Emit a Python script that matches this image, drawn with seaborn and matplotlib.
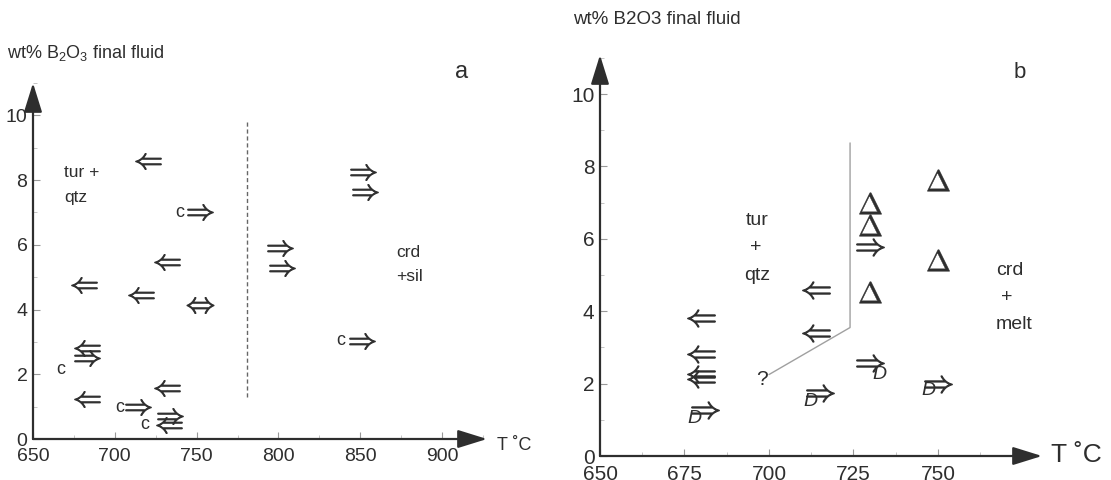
import numpy as np
import pandas as pd
import matplotlib
matplotlib.use("Agg")
import matplotlib.pyplot as plt
from matplotlib.ticker import MultipleLocator
import seaborn as sns

sns.set_style("white")
plt.rcParams["font.family"] = ["Liberation Sans", "DejaVu Sans"]
plt.rcParams["mathtext.fontset"] = "cm"

INK = "#2e2e2e"

# ---------------- panel a data ----------------
a_left_T = [720, 681, 716, 732, 683, 683, 732, 733]
a_left_B = [8.6, 4.75, 4.46, 5.47, 2.8, 1.24, 1.58, 0.42]
a_right_T = [683, 752, 801, 802, 852, 853, 851, 714, 734]
a_right_B = [2.5, 7.0, 5.9, 5.27, 8.26, 7.62, 3.04, 0.98, 0.7]
a_both_T = [752]
a_both_B = [4.14]
a_c_T = [667, 703, 718, 740, 838]
a_c_B = [2.14, 0.98, 0.44, 7.0, 3.04]
a_bound_T = [781, 781]
a_bound_B = [1.3, 9.8]
a_labels = ["tur +", "qtz", "crd", "+sil"]
a_label_T = [669, 669, 872, 872]
a_label_B = [8.23, 7.45, 5.77, 5.03]
a_xticks = [650, 700, 750, 800, 850, 900]
a_yticks = [0, 2, 4, 6, 8, 10]

# ---------------- panel b data ----------------
b_left_T = [680, 680, 680, 680, 714, 714]
b_left_B = [3.8, 2.82, 2.26, 2.12, 4.59, 3.39]
b_right_T = [730]
b_right_B = [5.78]
b_rightD_T = [681, 715, 730, 750]
b_rightD_B = [1.27, 1.73, 2.58, 2.0]
b_D_T = [678, 712.2, 732.8, 747.1]
b_D_B = [1.04, 1.50, 2.24, 1.82]
b_tri_T = [730, 730, 730, 750, 750]
b_tri_B = [6.98, 6.38, 4.54, 7.62, 5.41]
b_bound_T = [700, 724, 724]
b_bound_B = [2.25, 3.55, 8.65]
b_labels = ["tur", "+", "qtz", "crd", "+", "melt"]
b_label_T = [696.4, 696.2, 696.6, 771.2, 770.5, 772.5]
b_label_B = [6.52, 5.76, 5.0, 5.12, 4.38, 3.62]
b_q_T, b_q_B = 698, 2.1
b_xticks = [650, 675, 700, 725, 750]
b_yticks = [0, 2, 4, 6, 8, 10]

fig = plt.figure(figsize=(11.11, 4.8), dpi=100)
W, H = 1111, 480
axA = fig.add_axes([33 / W, 1 - 439 / H, (487 - 33) / W, (439 - 83) / H])
axB = fig.add_axes([600 / W, 1 - 456 / H, (1042 - 600) / W, (456 - 55) / H])


def marks(ax, T, B, marker, size, lw=0.7):
    df = pd.DataFrame({"T": T, "B": B})
    sns.scatterplot(data=df, x="T", y="B", marker=marker, s=size ** 2,
                    color=INK, edgecolor=INK, linewidth=lw, ax=ax,
                    legend=False, clip_on=False)


def style_axes(ax, xlim, ylim, xticks, yticks, xminor, lab_size):
    ax.set_xlim(*xlim)
    ax.set_ylim(*ylim)
    for s in ax.spines.values():
        s.set_visible(False)
    ax.set_xticks(xticks)
    ax.set_yticks(yticks)
    ax.xaxis.set_minor_locator(MultipleLocator(xminor))
    ax.yaxis.set_minor_locator(MultipleLocator(1))
    ax.tick_params(which="major", direction="in", length=5, width=0.8,
                   color="#999999", labelsize=lab_size, labelcolor=INK,
                   bottom=True, left=True)
    ax.tick_params(axis="x", which="major", pad=6.5)
    ax.tick_params(axis="y", which="major", pad=4)
    ax.tick_params(which="minor", direction="in", length=3, width=0.6,
                   color="#bbbbbb", bottom=True, left=True)
    ax.set_xlabel("")
    ax.set_ylabel("")
    arrow = dict(arrowstyle="-|>,head_length=0.9,head_width=0.28",
                 mutation_scale=20, color=INK, lw=1.6, shrinkA=0, shrinkB=0)
    ax.annotate("", xy=(xlim[1], 0), xytext=(xlim[0], 0),
                xycoords="data", arrowprops=arrow, annotation_clip=False)
    ax.annotate("", xy=(xlim[0], ylim[1]), xytext=(xlim[0], 0),
                xycoords="data", arrowprops=arrow, annotation_clip=False)


# ---------------- panel a ----------------
axA.plot(a_bound_T, a_bound_B, ls=(0, (3, 2)), color="#666666", lw=1.0)
marks(axA, a_left_T, a_left_B, r"$\Leftarrow$", 18.5)
marks(axA, a_right_T, a_right_B, r"$\Rightarrow$", 18.5)
marks(axA, a_both_T, a_both_B, r"$\Leftrightarrow$", 19.5)
for t, b in zip(a_c_T, a_c_B):
    axA.text(t, b, "c", fontsize=13, color=INK, ha="center", va="center")
for s, t, b in zip(a_labels, a_label_T, a_label_B):
    axA.text(t, b, s, fontsize=12.5, color=INK, ha="left", va="center")
style_axes(axA, (650, 927.5), (0, 11.0), a_xticks, a_yticks, 25, 14)

# ---------------- panel b ----------------
axB.plot(b_bound_T, b_bound_B, ls="-", color="#a0a0a0", lw=1.0)
marks(axB, b_left_T, b_left_B, r"$\Leftarrow$", 20)
marks(axB, b_right_T, b_right_B, r"$\Rightarrow$", 20)
marks(axB, b_rightD_T, b_rightD_B, r"$\Rightarrow$", 20)
marks(axB, b_tri_T, b_tri_B, r"$\Delta$", 16, lw=0.3)
for t, b in zip(b_D_T, b_D_B):
    axB.text(t, b, "D", fontsize=14, style="italic", color=INK,
             ha="center", va="center")
for s, t, b in zip(b_labels, b_label_T, b_label_B):
    axB.text(t, b, s, fontsize=14, color=INK, ha="center", va="center")
axB.text(b_q_T, b_q_B, "?", fontsize=15, color=INK, ha="center", va="center")
style_axes(axB, (650, 780.8), (0, 11.08), b_xticks, b_yticks, 12.5, 15)

# ---------------- figure texts ----------------
fig.text(7 / W, 1 - 53 / H, r"wt% B$_\mathregular{2}$O$_\mathregular{3}$ final fluid",
         fontsize=13, color=INK, ha="left", va="center",
         math_fontfamily="dejavusans")
fig.text(573 / W, 1 - 20 / H, "wt% B2O3 final fluid",
         fontsize=13.5, color=INK, ha="left", va="center")
fig.text(462 / W, 1 - 72 / H, "a", fontsize=17, color=INK, ha="center", va="center")
fig.text(1020 / W, 1 - 72 / H, "b", fontsize=16, color=INK, ha="center", va="center")
fig.text(497 / W, 1 - 445 / H, "T ˚C", fontsize=13, color=INK, ha="left", va="center")
fig.text(1051 / W, 1 - 455 / H, "T ˚C", fontsize=19, color=INK, ha="left", va="center")

fig.savefig("out.png", dpi=100, facecolor="white")
